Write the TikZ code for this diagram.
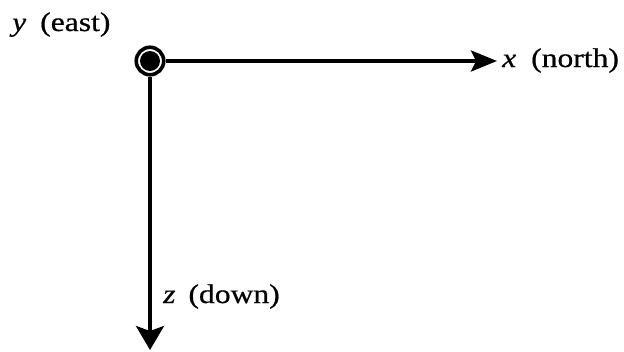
\documentclass[tikz,border=0pt]{standalone}
\usepackage{fontspec}
\setmainfont[FakeStretch=1.17,FakeBold=0.6]{Liberation Serif}
\usetikzlibrary{arrows.meta}
\begin{document}
\begin{tikzpicture}[x=1bp,y=1bp,
  axis/.style={line width=3.4bp},
  lbl/.style={anchor=base west, inner sep=0pt, font=\fontsize{27bp}{31bp}\selectfont}]
\useasboundingbox (0,0) rectangle (624,351);
\node[circle, draw, line width=3.6bp, minimum size=27.5bp, inner sep=0pt] (o) at (150,290) {};
\node[circle, fill, minimum size=20bp, inner sep=0pt] (dot) at (o.center) {};
\coordinate (xt) at (497,290);
\coordinate (zt) at (150,1);
\draw[axis, -{Stealth[length=26bp,width=21bp,inset=5bp]}] (o.east) -- (xt);
\draw[axis, -{Stealth[length=24bp,width=28bp,inset=5bp]}] (o.south) -- (zt);
\node[lbl] (ly) at (12,320) {\textit{y}\hspace{14bp}(east)};
\node[lbl] (lx) at (502,284) {\textit{x}\hspace{15bp}(north)};
\node[lbl] (lz) at (163,48) {\textit{z}\hspace{13bp}(down)};
\end{tikzpicture}
\end{document}
